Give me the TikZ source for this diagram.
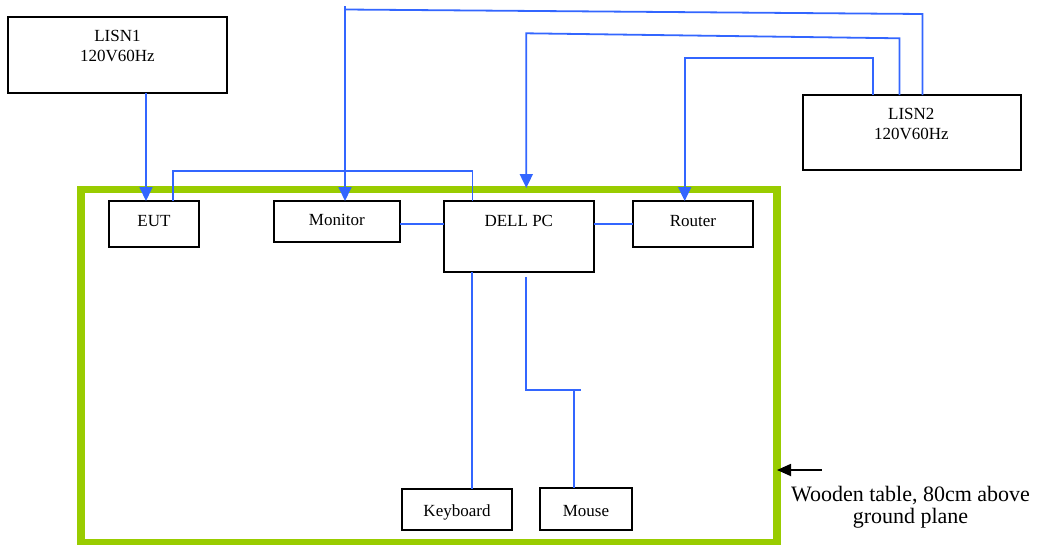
\documentclass[tikz,border=0pt]{standalone}
\usepackage{fontspec}
\setmainfont{Liberation Serif}
\usetikzlibrary{arrows.meta,calc}
\definecolor{wireblue}{RGB}{51,102,255}
\definecolor{tablegreen}{RGB}{153,204,0}
\begin{document}
\begin{tikzpicture}[x=1pt,y=-1pt,
  box/.style={draw=black,line width=1.8pt,inner sep=0pt,outer sep=0pt,anchor=north west},
  lbl/.style={anchor=base,inner sep=0pt,font=\fontsize{17}{20}\selectfont},
  wlbl/.style={anchor=base,inner sep=0pt,font=\fontsize{22}{22}\selectfont},
  wire/.style={draw=wireblue,line width=1.8pt},
  tip/.style={-{Triangle[length=14pt,width=13pt]}},
]
\useasboundingbox (0,0) rectangle (1041,544);
% table
\node[draw=tablegreen,line width=7.7pt,minimum width=696pt,minimum height=353.5pt,inner sep=0pt,outer sep=0pt,anchor=north west] (table) at (81,189.5) {};
% boxes
\node[box,minimum width=218.4pt,minimum height=76pt] (lisn1) at (8.3,17) {};
\node[box,minimum width=218.3pt,minimum height=75pt] (lisn2) at (802.7,95) {};
\node[box,minimum width=89.7pt,minimum height=46.3pt] (eut) at (109.3,201) {};
\node[box,minimum width=126.3pt,minimum height=41.3pt] (monitor) at (273.7,201) {};
\node[box,minimum width=149.6pt,minimum height=70.7pt] (dell) at (444,201) {};
\node[box,minimum width=119.4pt,minimum height=46.3pt] (router) at (633.3,201) {};
\node[box,minimum width=110.6pt,minimum height=40.4pt] (keyboard) at (401.7,489.3) {};
\node[box,minimum width=92.6pt,minimum height=41.4pt] (mouse) at (539.7,488.3) {};
% labels
\node[lbl] (lisn1a) at (117.5,41.7) {LISN1};
\node[lbl] (lisn1b) at (117.5,61.7) {120V60Hz};
\node[lbl] (lisn2a) at (911.3,119) {LISN2};
\node[lbl] (lisn2b) at (911.3,139.3) {120V60Hz};
\node[lbl] (eutl) at (154,226) {EUT};
\node[lbl] (monl) at (336.8,225) {Monitor};
\node[lbl] (dell1) at (518.8,226) {DELL PC};
\node[lbl] (routl) at (693,226) {Router};
\node[lbl] (keyl) at (457,516) {Keyboard};
\node[lbl] (mousel) at (586,516) {Mouse};
\node[wlbl] (w1) at (910.5,501.7) {Wooden table, 80cm above};
\node[wlbl] (w2) at (910.5,523.3) {ground plane};
% coordinates
\coordinate (xA) at (146,0);
\coordinate (xB) at (173.3,170.7);
\coordinate (xC) at (472.4,0);
\coordinate (yM) at (0,224);
\coordinate (m1) at (922.4,14);
\coordinate (m2) at (345,9.5);
\coordinate (m0) at (345,6);
\coordinate (d1) at (899.4,38.3);
\coordinate (d2) at (526.3,33.3);
\coordinate (d3) at (526.3,188);
\coordinate (r1) at (872.8,57.7);
\coordinate (r2) at (684.7,57.7);
\coordinate (k) at (472.3,0);
\coordinate (s1) at (526,277.3);
\coordinate (s2) at (526,390);
\coordinate (s3) at (581,390);
\coordinate (s4) at (574,390);
\coordinate (a0) at (821.7,470);
% wires
\draw[wire,tip] (lisn1.south -| xA) -- (eut.north -| xA);
\draw[wire] (eut.north -| xB) -- (xB) -| (dell.north -| xC);
\draw[wire] (monitor.east |- yM) -- (dell.west |- yM);
\draw[wire] (dell.east |- yM) -- (router.west |- yM);
\draw[wire] (lisn2.north -| m1) -- (m1) -- (m2);
\draw[wire,tip] (m0) -- (monitor.north -| m0);
\draw[wire,tip] (lisn2.north -| d1) -- (d1) -- (d2) -- (d3);
\draw[wire,tip] (lisn2.north -| r1) -- (r1) -- (r2) -- (router.north -| r2);
\draw[wire] (dell.south -| k) -- (keyboard.north -| k);
\draw[wire] (s1) -- (s2) -- (s3);
\draw[wire] (s4) -- (mouse.north -| s4);
\draw[black,line width=1.8pt,-{Triangle[length=14pt,width=12pt]}] (a0) -- (table.east |- a0);
\end{tikzpicture}
\end{document}
